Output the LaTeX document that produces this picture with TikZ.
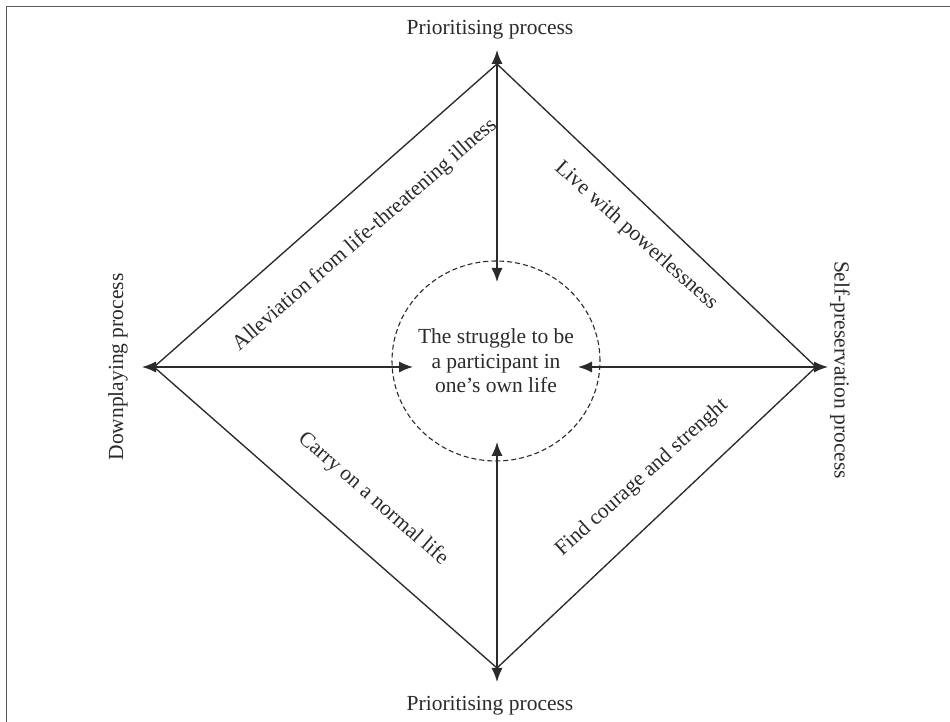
\documentclass[tikz,border=0pt]{standalone}
\usepackage{fontspec}
\setmainfont{Liberation Serif}
\usepackage{tikz}
\usetikzlibrary{arrows.meta, shapes.geometric, positioning, calc}

\definecolor{inkgray}{HTML}{2B2B2B}
\definecolor{framegray}{HTML}{5A5A5A}

\tikzset{
  rim/.style={draw=inkgray, line width=1.35pt},
  link/.style={rim, {Latex[length=14pt,width=11pt]}-{Latex[length=14pt,width=11pt]}},
  proctext/.style={font=\fontsize{21.5}{24.5}\selectfont, text=inkgray, inner sep=0pt},
  ring/.style={draw=inkgray, line width=1.1pt, dash pattern=on 5pt off 3pt},
}

\begin{document}
\begin{tikzpicture}[x=1pt, y=1pt]
% Page area and frame
\useasboundingbox (0,0) rectangle (950,722);
\fill[white] (0,0) rectangle (950,722);
\draw[framegray, line width=1.4pt] (6.5,0) -- (6.5,715.5) -- (950,715.5);

% Diamond corners and outer arrow tips
\coordinate (topTip) at (497,672);
\coordinate (topV) at (497,658);
\coordinate (bottomTip) at (497,40);
\coordinate (bottomV) at (497,54);
\coordinate (leftTip) at (142,355);
\coordinate (leftV) at (154,355);
\coordinate (rightTip) at (828,355);
\coordinate (rightV) at (816,355);

% Inner arrow tips
\coordinate (topIn) at (497,440);
\coordinate (bottomIn) at (497,280);
\coordinate (leftIn) at (413,355);
\coordinate (rightIn) at (578,355);

% Centre
\node[proctext, align=center] (struggle) at (496,361) {The struggle to be\\a participant in\\one's own life};
\draw[ring] (struggle.center) ellipse [x radius=104, y radius=100];

% Diamond
\draw[rim] (topV) -- (rightV) -- (bottomV) -- (leftV) -- cycle;

% Arrows
\draw[link] (topIn) -- (topTip);
\draw[link] (bottomIn) -- (bottomTip);
\draw[link] (leftIn) -- (leftTip);
\draw[link] (rightIn) -- (rightTip);

% Processes
\node[proctext] (prioTop) at (490,692) {Prioritising process};
\node[proctext] (prioBottom) at (490,16) {Prioritising process};
\node[proctext, rotate=90] (downplay) at (118,355) {Downplaying process};
\node[proctext, rotate=-90] (selfpres) at (840,352) {Self-preservation process};

% Edge texts
\node[proctext, rotate=41] (alleviation) at (365,487) {Alleviation from life-threatening illness};
\node[proctext, rotate=-42] (powerless) at (636,486) {Live with powerlessness};
\node[proctext, rotate=-41] (normallife) at (373,223) {Carry on a normal life};
\node[proctext, rotate=42] (courage) at (642,244) {Find courage and strenght};
\end{tikzpicture}
\end{document}
